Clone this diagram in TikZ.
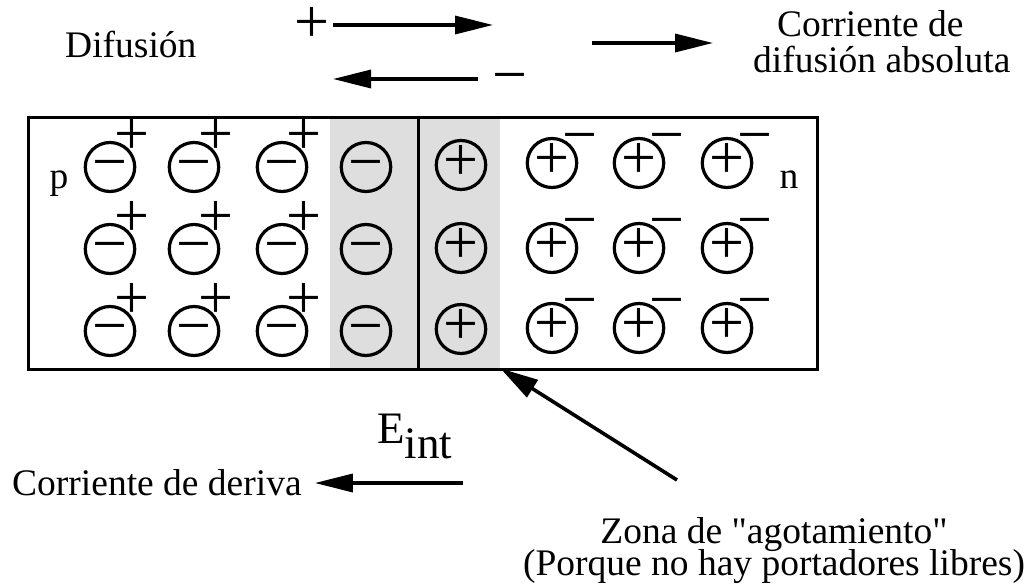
\documentclass[tikz,border=0pt]{standalone}
\usepackage{fontspec}
\setmainfont{Liberation Serif}[Ligatures=TeXOff]
\usetikzlibrary{arrows.meta,shapes.geometric,calc}
\begin{document}
\begin{tikzpicture}[x=1pt,y=-1pt,
  ion/.style={ellipse, draw, line width=3.2pt, minimum width=44pt, minimum height=49pt,
    inner sep=0pt, font=\fontsize{62}{62}\selectfont, text height=31pt, text depth=0pt},
  chg/.style={inner sep=0pt, font=\fontsize{62}{62}\selectfont, text height=31pt, text depth=0pt},
  lbl/.style={inner sep=0pt, font=\fontsize{37.5}{40}\selectfont},
  arr/.style={line width=3.4pt, -{Triangle[length=38pt,width=18pt]}},
]
\useasboundingbox (0,0) rectangle (1025,584);

% depletion region and crystal box
\node[fill=black!13, inner sep=0pt, minimum width=170pt, minimum height=252pt, anchor=north west] (dep) at (330,116) {};
\node[draw, line width=3.2pt, inner sep=0pt, minimum width=789pt, minimum height=252pt, anchor=north west] (box) at (27,116) {};
\coordinate (jt) at (418,116);
\coordinate (jb) at (418,368);
\draw[line width=3pt] (jt) -- (jb);

\node[lbl, anchor=base] (p) at (59,188) {p};
\node[lbl, anchor=base] (n) at (789,188) {n};

% p side acceptor ions with free holes
\foreach \c/\x in {1/110,2/194,3/282}{
  \foreach \r/\y in {1/167,2/249,3/331}{
    \node[ion] (a\c\r) at (\x,\y) {\symbol{"2212}};
    \node[chg] (sa\c\r) at ($(a\c\r)+(22,-28)$) {+};
  }
}
% depletion zone ions
\foreach \r/\y in {1/167,2/249,3/331}{
  \node[ion] (dm\r) at (366,\y) {\symbol{"2212}};
}
\foreach \r/\y in {1/165,2/248,3/329}{
  \node[ion] (dp\r) at (461,\y) {+};
}
% n side donor ions with free electrons
\foreach \c/\x in {1/552,2/639,3/727}{
  \foreach \r/\y in {1/163,2/248,3/328}{
    \node[ion] (d\c\r) at (\x,\y) {+};
    \node[chg] (sd\c\r) at ($(d\c\r)+(28,-23)$) {\symbol{"2212}};
  }
}

% top labels and arrows
\node[lbl, anchor=base west] (dif) at (65,57) {Difusión};
\node[chg] (tplus) at (312,27) {+};
\coordinate (tp1) at (333,25);
\coordinate (tp2) at (493,25);
\draw[arr] (tp1) -- (tp2);
\node[chg] (tminus) at (510,80) {\symbol{"2212}};
\coordinate (tm1) at (478,79);
\coordinate (tm2) at (333,79);
\draw[arr] (tm1) -- (tm2);
\coordinate (ab1) at (592,43);
\coordinate (ab2) at (713,43);
\draw[arr] (ab1) -- (ab2);
\node[lbl, anchor=base west] (cda1) at (777,36) {Corriente de};
\node[lbl, anchor=base west] (cda2) at (753,72) {difusión absoluta};

% bottom
\node[inner sep=0pt, anchor=base west, font=\fontsize{45}{45}\selectfont] (eint) at (377,443) {E\raisebox{-15pt}{int}};
\node[lbl, anchor=base west] (der) at (12,495) {Corriente de deriva};
\coordinate (dr1) at (463,483);
\draw[arr] (dr1) -- ($(der.east |- dr1)+(13,0)$);
\coordinate (zt) at (677,480);
\draw[line width=3.6pt, -{Triangle[length=38pt,width=20pt]}] (zt) -- (dep.south east);
\node[lbl, anchor=base] (zona1) at (774,543) {Zona de "agotamiento"};
\node[lbl, anchor=base] (zona2) at (774,575) {(Porque no hay portadores libres)};
\end{tikzpicture}
\end{document}
